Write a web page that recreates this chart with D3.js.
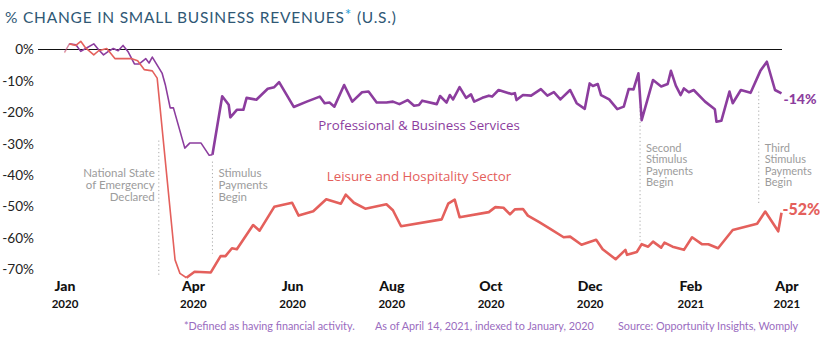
<!DOCTYPE html>
<html>
<head>
<meta charset="utf-8">
<script src="https://cdn.jsdelivr.net/npm/d3@7"></script>
<style>
  body { margin: 0; background: #fff; }
  svg { display: block; font-family: Lato, "Open Sans", sans-serif; }
</style>
</head>
<body>
<svg class="chart"></svg>
<script>
// weekly-ish readings, % change vs January 2020
var proServices = [
    ["2020-01-13", -0.8], ["2020-01-16", 1.8], ["2020-01-20", 1.5], ["2020-01-23", -0.6],
    ["2020-01-26", 0.3], ["2020-01-31", 1.8], ["2020-02-03", -0.1], ["2020-02-06", -1.7],
    ["2020-02-09", -0.6], ["2020-02-12", 0.3], ["2020-02-15", -0.4], ["2020-02-18", 1.3],
    ["2020-02-21", -0.6], ["2020-02-25", -4.6], ["2020-02-28", -4.6], ["2020-03-03", -2.9],
    ["2020-03-05", -4.3], ["2020-03-07", -2.4], ["2020-03-10", -5.0], ["2020-03-13", -7.5],
    ["2020-03-15", -11.2], ["2020-03-18", -18.6], ["2020-03-20", -18.6], ["2020-03-27", -31.4],
    ["2020-03-30", -29.8], ["2020-04-06", -29.8], ["2020-04-11", -33.7], ["2020-04-13", -33.5],
    ["2020-04-19", -14.9], ["2020-04-23", -17.6], ["2020-04-24", -21.6], ["2020-04-28", -19.2],
    ["2020-05-02", -19.2], ["2020-05-04", -15.4], ["2020-05-10", -16.0], ["2020-05-17", -12.5],
    ["2020-05-21", -12.0], ["2020-05-24", -10.4], ["2020-05-28", -13.9], ["2020-06-02", -18.3],
    ["2020-06-10", -16.6], ["2020-06-18", -15.0], ["2020-06-21", -17.1], ["2020-06-24", -16.9],
    ["2020-06-27", -18.2], ["2020-07-03", -11.3], ["2020-07-08", -16.6], ["2020-07-14", -13.6],
    ["2020-07-18", -13.4], ["2020-07-23", -16.9], ["2020-07-29", -16.9], ["2020-08-02", -16.6],
    ["2020-08-06", -17.4], ["2020-08-11", -16.1], ["2020-08-15", -17.9], ["2020-08-18", -17.7],
    ["2020-08-20", -16.3], ["2020-08-29", -17.4], ["2020-08-31", -14.8], ["2020-09-04", -16.9],
    ["2020-09-06", -14.5], ["2020-09-08", -15.9], ["2020-09-12", -12.0], ["2020-09-16", -15.4],
    ["2020-09-19", -14.3], ["2020-09-21", -16.6], ["2020-09-26", -15.4], ["2020-09-30", -14.7],
    ["2020-10-02", -15.0], ["2020-10-06", -12.9], ["2020-10-14", -14.2], ["2020-10-16", -13.9],
    ["2020-10-17", -16.1], ["2020-10-21", -14.5], ["2020-10-26", -14.7], ["2020-11-01", -12.6],
    ["2020-11-05", -14.7], ["2020-11-09", -13.6], ["2020-11-13", -15.9], ["2020-11-19", -12.9],
    ["2020-11-23", -17.1], ["2020-11-28", -18.9], ["2020-12-01", -10.8], ["2020-12-03", -11.6],
    ["2020-12-06", -11.0], ["2020-12-08", -14.5], ["2020-12-13", -15.9], ["2020-12-18", -19.0],
    ["2020-12-22", -18.2], ["2020-12-25", -12.6], ["2020-12-28", -12.7], ["2020-12-31", -7.6],
    ["2021-01-02", -22.5], ["2021-01-09", -9.7], ["2021-01-14", -11.8], ["2021-01-18", -11.0],
    ["2021-01-20", -6.8], ["2021-01-23", -11.5], ["2021-01-26", -14.5], ["2021-01-28", -12.4],
    ["2021-01-31", -13.6], ["2021-02-03", -12.9], ["2021-02-10", -16.6], ["2021-02-16", -19.0],
    ["2021-02-17", -23.0], ["2021-02-20", -22.7], ["2021-02-25", -13.4], ["2021-02-27", -17.1],
    ["2021-03-04", -12.9], ["2021-03-10", -13.8], ["2021-03-16", -6.8], ["2021-03-20", -3.9],
    ["2021-03-25", -12.9], ["2021-03-29", -14]
];

var leisure = [
    ["2020-01-13", -1.1], ["2020-01-16", 1.8], ["2020-01-20", 1.3], ["2020-01-23", 2.6],
    ["2020-01-26", 0.5], ["2020-01-31", -1.7], ["2020-02-03", -0.4], ["2020-02-08", 0.3],
    ["2020-02-13", -2.9], ["2020-02-23", -2.9], ["2020-02-27", -3.6], ["2020-03-02", -6.4],
    ["2020-03-07", -6.8], ["2020-03-10", -9.1], ["2020-03-21", -67.0], ["2020-03-24", -71.3],
    ["2020-03-28", -72.7], ["2020-04-02", -70.8], ["2020-04-12", -71.0], ["2020-04-18", -65.8],
    ["2020-04-21", -65.8], ["2020-04-25", -63.3], ["2020-04-28", -63.6], ["2020-05-08", -55.9],
    ["2020-05-12", -57.7], ["2020-05-21", -50.1], ["2020-06-01", -48.8], ["2020-06-05", -52.9],
    ["2020-06-14", -51.5], ["2020-06-22", -47.7], ["2020-07-01", -49.1], ["2020-07-04", -46.2],
    ["2020-07-09", -48.8], ["2020-07-16", -50.7], ["2020-07-29", -49.3], ["2020-08-02", -51.2],
    ["2020-08-07", -56.3], ["2020-09-01", -54.1], ["2020-09-05", -49.1], ["2020-09-09", -47.8],
    ["2020-09-12", -53.4], ["2020-09-30", -51.8], ["2020-10-04", -50.2], ["2020-10-09", -50.4],
    ["2020-10-13", -52.5], ["2020-10-16", -50.9], ["2020-10-21", -50.8], ["2020-10-24", -52.9],
    ["2020-10-31", -55.0], ["2020-11-07", -57.2], ["2020-11-15", -59.8], ["2020-11-19", -59.6],
    ["2020-11-26", -62.2], ["2020-12-05", -60.6], ["2020-12-09", -63.6], ["2020-12-17", -66.8],
    ["2020-12-23", -63.8], ["2020-12-24", -65.4], ["2020-12-30", -64.5], ["2021-01-02", -62.0],
    ["2021-01-06", -62.8], ["2021-01-09", -61.2], ["2021-01-14", -63.1], ["2021-01-16", -61.5],
    ["2021-01-21", -62.8], ["2021-01-28", -63.8], ["2021-02-02", -59.8], ["2021-02-08", -62.0],
    ["2021-02-12", -62.0], ["2021-02-18", -63.3], ["2021-02-27", -57.5], ["2021-03-14", -55.5],
    ["2021-03-19", -51.6], ["2021-03-27", -57.9], ["2021-03-29", -52]
];

var yTicks = [0, -10, -20, -30, -40, -50, -60, -70];
var tickDates = ["2020-01-13", "2020-04-01", "2020-06-01", "2020-08-01", "2020-10-01", "2020-12-01", "2021-02-01", "2021-04-01"];
var tickMonths = ["Jan", "Apr", "Jun", "Aug", "Oct", "Dec", "Feb", "Apr"];
var tickYears = ["2020", "2020", "2020", "2020", "2020", "2020", "2021", "2021"];

// policy events: date, label lines, where the dotted line starts/ends (% values)
var events = [
    { date: "2020-03-11", lines: ["National State", "of Emergency", "Declared"], side: "left", top: -29, bottom: -72 },
    { date: "2020-04-13", lines: ["Stimulus", "Payments", "Begin"], side: "right", top: -35.7, bottom: -65 },
    { date: "2021-01-01", lines: ["Second", "Stimulus", "Payments", "Begin"], side: "right", top: -18.2, bottom: -61 },
    { date: "2021-03-15", lines: ["Third", "Stimulus", "Payments", "Begin"], side: "right", top: -13.4, bottom: -49.5 }
];

var W = 820, H = 339;
var purple = "#8c3d9e", red = "#e4605c";
var parse = d3.timeParse("%Y-%m-%d");

var pro = proServices.map(function (d) { return { date: parse(d[0]), value: d[1] }; });
var leis = leisure.map(function (d) { return { date: parse(d[0]), value: d[1] }; });

var svg = d3.select("svg.chart")
    .attr("width", W)
    .attr("height", H);

// set the ranges
var x = d3.scaleTime()
    .domain(d3.extent(pro.concat(leis), function (d) { return d.date; }))
    .range([64.5, 781.5]);
var y = d3.scaleLinear().domain([-70, 0]).range([269.3, 49.5]);

// title
var title = svg.append("text")
    .attr("x", 5)
    .attr("y", 23)
    .attr("fill", "#2f5875")
    .style("font-size", "15.5px")
    .style("letter-spacing", "0.78px");
title.append("tspan").text("% CHANGE IN SMALL BUSINESS REVENUES");
title.append("tspan").text("*").attr("fill", "#2a9fd8").attr("dy", -3);
title.append("tspan").text(" (U.S.)").attr("dy", 3);

// y axis labels
var yAxis = svg.append("g")
    .attr("transform", "translate(34,0)")
    .call(d3.axisLeft(y).tickValues(yTicks).tickSize(0).tickPadding(0)
        .tickFormat(function (d) { return d + "%"; }));
yAxis.select(".domain").remove();
yAxis.selectAll("text")
    .attr("fill", "#222")
    .style("font-size", "13.6px")
    .style("font-family", "Lato, sans-serif");

// zero line
svg.append("line")
    .attr("x1", 38).attr("x2", 782)
    .attr("y1", y(0)).attr("y2", y(0))
    .attr("stroke", "#111")
    .attr("stroke-width", 1.2);

// x axis: month on top, year under it
var xAxis = svg.append("g")
    .attr("transform", "translate(0,278)")
    .call(d3.axisBottom(x).tickValues(tickDates.map(parse)).tickSize(0)
        .tickFormat(function (d, i) { return tickMonths[i]; }));
xAxis.select(".domain").remove();
xAxis.selectAll("text")
    .attr("y", 13)
    .attr("dy", null)
    .attr("fill", "#111")
    .style("font-size", "14px")
    .style("font-weight", "900")
    .style("font-family", "Lato, sans-serif");
xAxis.selectAll(".tick").append("text")
    .text(function (d, i) { return tickYears[i]; })
    .attr("y", 30)
    .attr("fill", "#111")
    .attr("text-anchor", "middle")
    .style("font-size", "11.5px")
    .style("font-weight", "700")
    .style("font-family", "Lato, sans-serif");

// event markers
var ev = svg.append("g").selectAll("g")
    .data(events)
    .enter().append("g")
    .attr("transform", function (d) { return "translate(" + x(parse(d.date)) + ",0)"; });

ev.append("line")
    .attr("y1", function (d) { return y(d.top); })
    .attr("y2", function (d) { return y(d.bottom); })
    .attr("stroke", "#aaa")
    .attr("stroke-width", 1)
    .attr("stroke-dasharray", "1.2,2.6");

ev.each(function (d) {
    var g = d3.select(this);
    var n = d.lines.length;
    var top = n == 3 ? 177 : 151.5;
    var lh = n == 3 ? 12 : 11.6;
    d.lines.forEach(function (t, i) {
        g.append("text")
            .text(t)
            .attr("x", d.side == "left" ? -4 : 6)
            .attr("y", top + i * lh)
            .attr("text-anchor", d.side == "left" ? "end" : "start")
            .attr("fill", "#9c9c9c")
            .style("font-size", n == 3 ? "11.5px" : "11px");
    });
});

// define the line
var line = d3.line()
    .x(function (d) { return x(d.date); })
    .y(function (d) { return y(d.value); });

// early part is drawn thinner than the rest
function drawSeries(data, color, thinUntil) {
    var cut = parse(thinUntil);
    var early = data.filter(function (d) { return d.date <= cut; });
    var late = data.filter(function (d) { return d.date >= cut; });
    svg.append("path")
        .datum(data.slice(0, 2))
        .attr("d", line)
        .attr("fill", "none")
        .attr("stroke", color)
        .attr("stroke-opacity", 0.45)
        .attr("stroke-width", 1.3);
    svg.append("path")
        .datum(early.slice(1))
        .attr("d", line)
        .attr("fill", "none")
        .attr("stroke", color)
        .attr("stroke-width", 1.6)
        .attr("stroke-linejoin", "round");
    svg.append("path")
        .datum(late)
        .attr("d", line)
        .attr("fill", "none")
        .attr("stroke", color)
        .attr("stroke-width", 2.6)
        .attr("stroke-linejoin", "round");
}

drawSeries(pro, purple, "2020-04-13");
drawSeries(leis, red, "2020-03-28");

// series names
svg.append("text")
    .text("Professional & Business Services")
    .attr("x", 419).attr("y", 130)
    .attr("text-anchor", "middle")
    .attr("fill", purple)
    .style("font-family", "'Open Sans', sans-serif")
    .style("font-size", "13.3px");

svg.append("text")
    .text("Leisure and Hospitality Sector")
    .attr("x", 419).attr("y", 181)
    .attr("text-anchor", "middle")
    .attr("fill", red)
    .style("font-family", "'Open Sans', sans-serif")
    .style("font-size", "13.3px");

// last values
var lastPro = pro[pro.length - 1], lastLeis = leis[leis.length - 1];
svg.append("text")
    .text(lastPro.value + "%")
    .attr("x", x(lastPro.date) + 2).attr("y", y(lastPro.value) + 11)
    .attr("fill", purple)
    .style("font-size", "14px")
    .style("font-weight", "900");

svg.append("text")
    .text(lastLeis.value + "%")
    .attr("x", x(lastLeis.date) + 1).attr("y", y(lastLeis.value) + 2)
    .attr("fill", red)
    .style("font-size", "16px")
    .style("font-weight", "900");

// footnotes
var notes = [
    ["*Defined as having financial activity.", 184],
    ["As of April 14, 2021, indexed to January, 2020", 375],
    ["Source: Opportunity Insights, Womply", 618]
];
svg.append("g").selectAll("text")
    .data(notes)
    .enter().append("text")
    .text(function (d) { return d[0]; })
    .attr("x", function (d) { return d[1]; })
    .attr("y", 330)
    .attr("fill", "#9a6cc0")
    .style("font-size", "10.8px");
</script>
</body>
</html>
